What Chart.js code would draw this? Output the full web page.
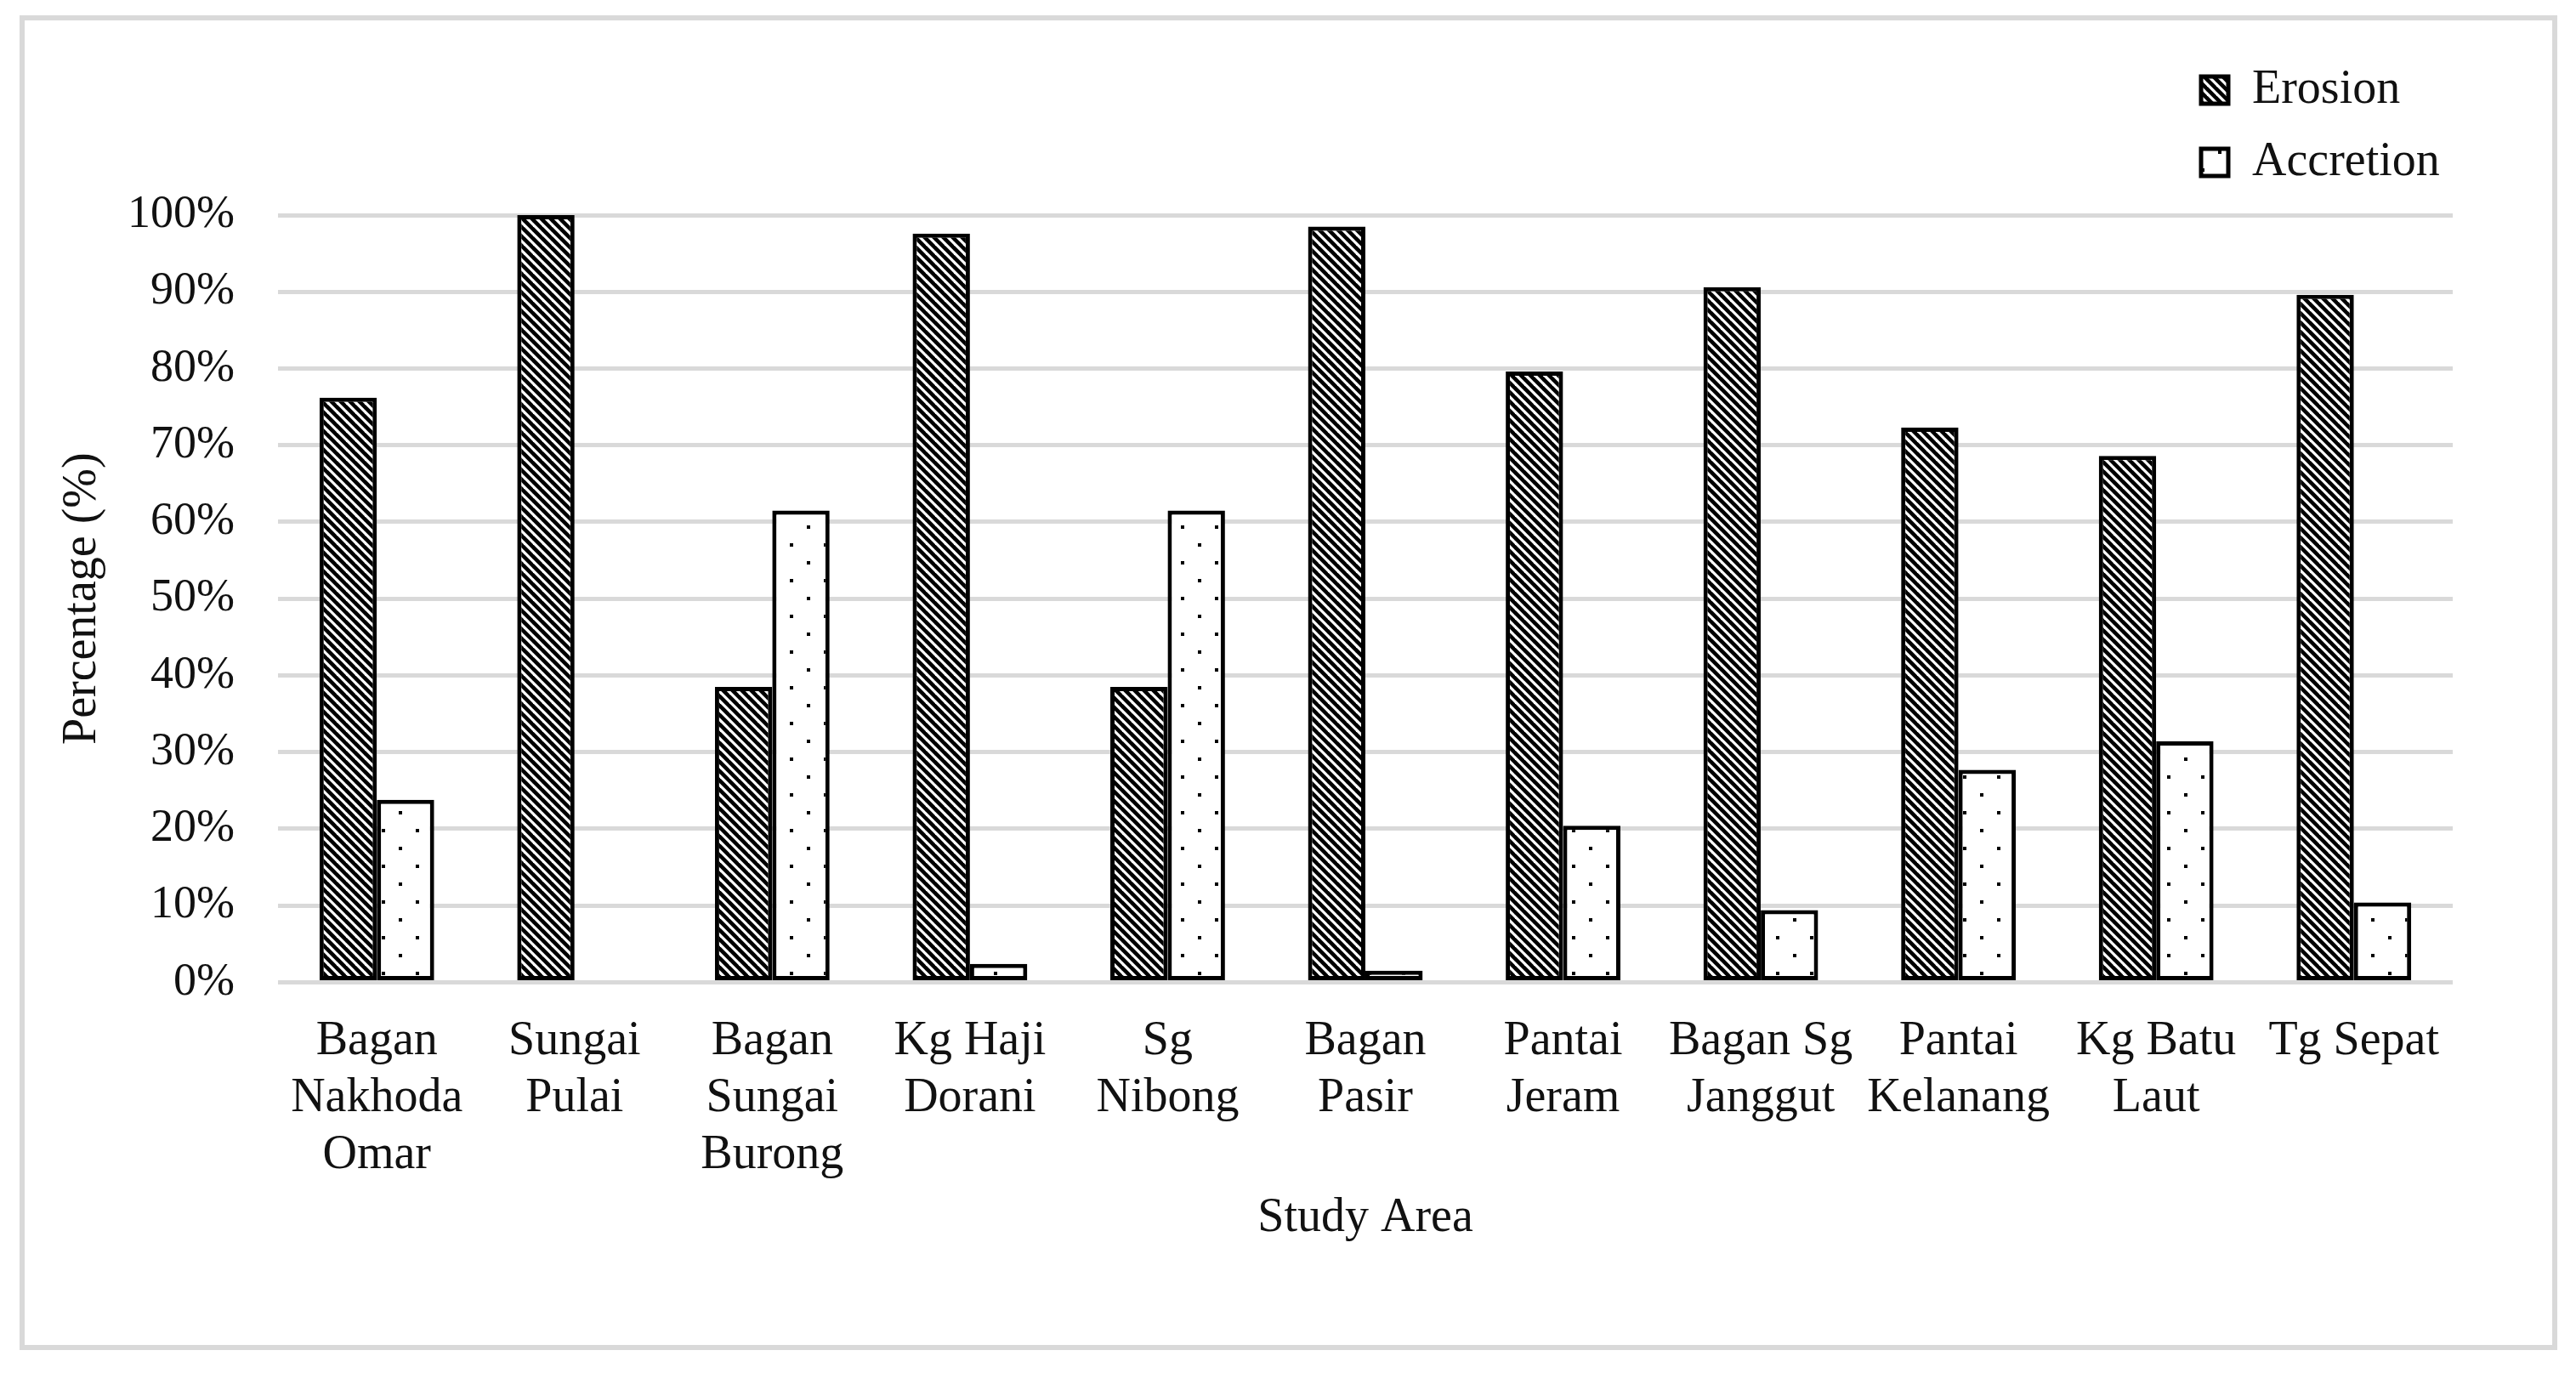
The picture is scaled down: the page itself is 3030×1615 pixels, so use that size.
<!DOCTYPE html>
<html>
<head>
<meta charset="utf-8">
<script src="https://cdn.jsdelivr.net/npm/chart.js@4.4.1/dist/chart.umd.min.js"></script>
<style>
  html, body { margin: 0; padding: 0; background: #ffffff; }
  #wrap { position: relative; width: 3030px; height: 1615px; }
  #frame { position: absolute; left: 23px; top: 18px; width: 2973px; height: 1558px; border: 6px solid #d9d9d9; pointer-events: none; }
  canvas { position: absolute; left: 0; top: 0; }
</style>
</head>
<body>
<div id="wrap">
  <canvas id="c" width="3030" height="1615"></canvas>
  <div id="frame"></div>
</div>
<script>
// ---- data ----
const categories = [
  ['Bagan', 'Nakhoda', 'Omar'],
  ['Sungai', 'Pulai'],
  ['Bagan', 'Sungai', 'Burong'],
  ['Kg Haji', 'Dorani'],
  ['Sg', 'Nibong'],
  ['Bagan', 'Pasir'],
  ['Pantai', 'Jeram'],
  ['Bagan Sg', 'Janggut'],
  ['Pantai', 'Kelanang'],
  ['Kg Batu', 'Laut'],
  ['Tg Sepat']
];
const erosion   = [76.2, 100, 38.5, 97.6, 38.5, 98.5, 79.6, 90.6, 72.3, 68.6, 89.6];
const accretion = [23.8, 0,   61.5, 2.4,  61.5, 1.5,  20.4, 9.4,  27.7, 31.4, 10.4];
const seriesNames = ['Erosion', 'Accretion'];
const yTickLabels = ['0%', '10%', '20%', '30%', '40%', '50%', '60%', '70%', '80%', '90%', '100%'];
const xTitle = 'Study Area';
const yTitle = 'Percentage (%)';

// ---- patterns ----
function makeDiagonal() {
  const p = 11;
  const c = document.createElement('canvas');
  c.width = p; c.height = p;
  const g = c.getContext('2d');
  g.fillStyle = '#000';
  g.fillRect(0, 0, p, p);
  g.strokeStyle = '#fff';
  g.lineWidth = 3.2;
  g.lineCap = 'square';
  for (const k of [-p, 0, p]) {
    g.beginPath();
    g.moveTo(k, 0);
    g.lineTo(k + p, p);
    g.stroke();
  }
  return document.getElementById('c').getContext('2d').createPattern(c, 'repeat');
}
function makeDots() {
  const w = 40, h = 42;
  const c = document.createElement('canvas');
  c.width = w; c.height = h;
  const g = c.getContext('2d');
  g.fillStyle = '#fff';
  g.fillRect(0, 0, w, h);
  g.fillStyle = '#000';
  g.fillRect(9, 9, 4, 4);
  g.fillRect(29, 30, 4, 4);
  return document.getElementById('c').getContext('2d').createPattern(c, 'repeat');
}

const FONT = 'Liberation Serif, Times New Roman, serif';
const TEXT = '#111111';

const legendPlacer = {
  id: 'legendPlacer',
  afterLayout(chart) {
    const lg = chart.legend;
    if (!lg) return;
    const w = lg.width;
    lg.left = 2560;
    lg.top = 49;
    lg.right = lg.left + w;
    lg.height = 320;
    lg.bottom = lg.top + 320;
  }
};

new Chart(document.getElementById('c'), {
  type: 'bar',
  data: {
    labels: categories,
    datasets: [
      {
        label: seriesNames[0],
        data: erosion,
        backgroundColor: makeDiagonal(),
        borderColor: '#000',
        borderWidth: 5,
        borderSkipped: false
      },
      {
        label: seriesNames[1],
        data: accretion,
        backgroundColor: makeDots(),
        borderColor: '#000',
        borderWidth: 5,
        borderSkipped: false
      }
    ]
  },
  options: {
    responsive: false,
    devicePixelRatio: 1,
    animation: false,
    datasets: {
      bar: { barPercentage: 1.0, categoryPercentage: 0.58 }
    },
    layout: { padding: { left: 30, right: 145, top: 253, bottom: 154 } },
    plugins: {
      tooltip: { enabled: false },
      legend: {
        position: 'chartArea',
        align: 'start',
        labels: {
          boxWidth: 32,
          boxHeight: 32,
          padding: 29,
          color: TEXT,
          font: { family: FONT, size: 56 }
        }
      }
    },
    scales: {
      x: {
        grid: { display: false, drawTicks: false },
        border: { display: false },
        ticks: {
          autoSkip: false,
          maxRotation: 0,
          minRotation: 0,
          padding: 36,
          color: TEXT,
          font: { family: FONT, size: 56, lineHeight: 1.2 }
        },
        title: {
          display: true,
          text: xTitle,
          color: TEXT,
          font: { family: FONT, size: 56, lineHeight: 1 },
          padding: { top: -24, bottom: 0 }
        }
      },
      y: {
        min: 0,
        max: 100,
        grid: { color: '#d9d9d9', lineWidth: 5, drawTicks: false },
        border: { display: false },
        ticks: {
          stepSize: 10,
          padding: 51,
          color: TEXT,
          font: { family: FONT, size: 54 },
          callback: (v, i) => yTickLabels[i]
        },
        title: {
          display: true,
          text: yTitle,
          color: TEXT,
          font: { family: FONT, size: 56, lineHeight: 1 },
          padding: { top: 39, bottom: -26 }
        }
      }
    }
  },
  plugins: [legendPlacer]
});
</script>
</body>
</html>
